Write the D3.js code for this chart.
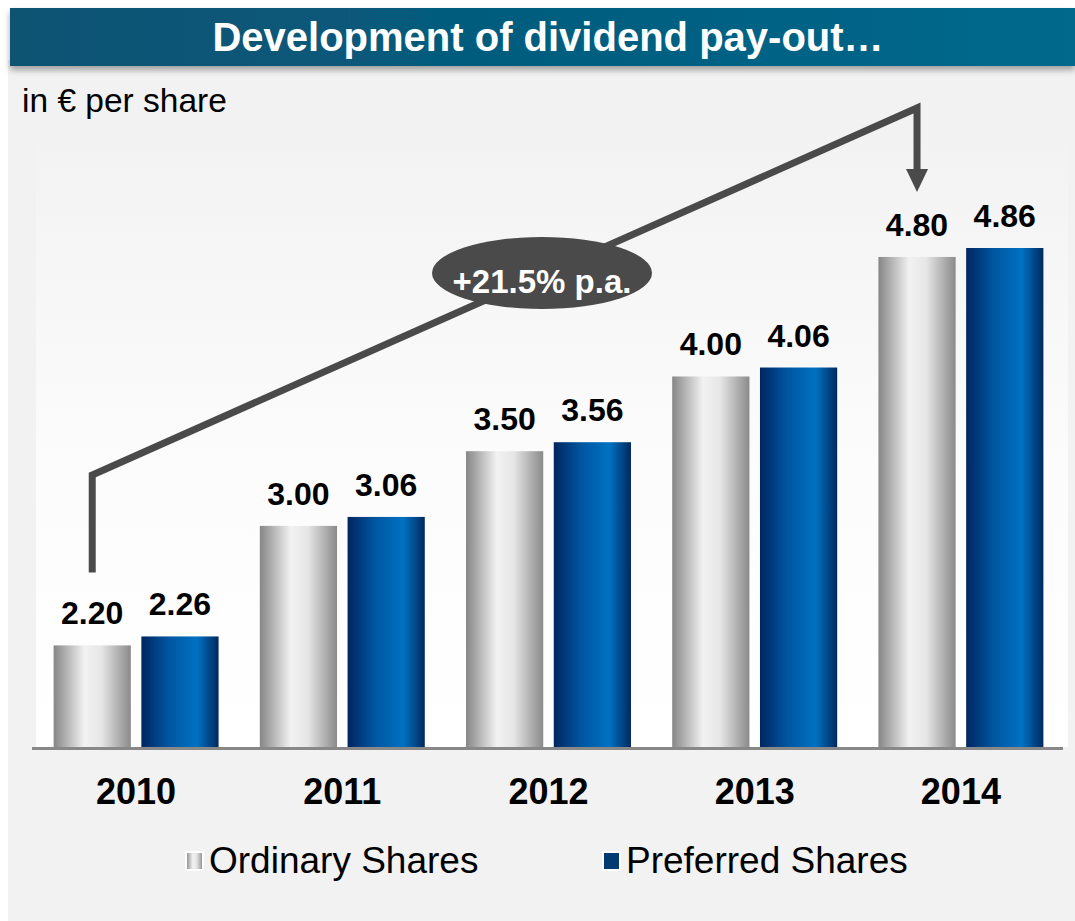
<!DOCTYPE html>
<html lang="en">
<head>
    <meta charset="UTF-8">
    <title>Development of dividend pay-out</title>
    <script src="https://d3js.org/d3.v7.min.js"></script>
    <style>
        body { margin: 0; background: #fff; font-family: "Liberation Sans", Arial, sans-serif; }
        svg { display: block; }
    </style>
</head>
<body>
    <div id="chart"></div>

    <script>
        // data
        const years = ["2010", "2011", "2012", "2013", "2014"];
        const seriesNames = ["Ordinary Shares", "Preferred Shares"];
        const ordinary = [2.20, 3.00, 3.50, 4.00, 4.80];
        const preferred = [2.26, 3.06, 3.56, 4.06, 4.86];
        const cagrLabel = "+21.5% p.a.";

        const width = 1075, height = 921;

        const svg = d3.select("#chart").append("svg")
            .attr("width", width)
            .attr("height", height);

        const defs = svg.append("defs");

        // gradients
        const grey = defs.append("linearGradient").attr("id", "gGrey")
            .attr("x1", "0%").attr("x2", "100%").attr("y1", "0%").attr("y2", "0%");
        grey.append("stop").attr("offset", "0%").attr("stop-color", "#868686");
        grey.append("stop").attr("offset", "40%").attr("stop-color", "#f2f2f2");
        grey.append("stop").attr("offset", "62%").attr("stop-color", "#e6e6e6");
        grey.append("stop").attr("offset", "100%").attr("stop-color", "#8a8a8a");

        const blue = defs.append("linearGradient").attr("id", "gBlue")
            .attr("x1", "0%").attr("x2", "100%").attr("y1", "0%").attr("y2", "0%");
        blue.append("stop").attr("offset", "0%").attr("stop-color", "#002660");
        blue.append("stop").attr("offset", "35%").attr("stop-color", "#0055a0");
        blue.append("stop").attr("offset", "72%").attr("stop-color", "#0072c2");
        blue.append("stop").attr("offset", "100%").attr("stop-color", "#00285e");

        const head = defs.append("linearGradient").attr("id", "gHead")
            .attr("x1", "0%").attr("x2", "100%").attr("y1", "0%").attr("y2", "0%");
        head.append("stop").attr("offset", "0%").attr("stop-color", "#0a5272");
        head.append("stop").attr("offset", "100%").attr("stop-color", "#00698c");

        const plotBg = defs.append("linearGradient").attr("id", "gPlot")
            .attr("x1", "0%").attr("x2", "0%").attr("y1", "0%").attr("y2", "100%");
        plotBg.append("stop").attr("offset", "0%").attr("stop-color", "#f2f2f2");
        plotBg.append("stop").attr("offset", "55%").attr("stop-color", "#fcfcfc");
        plotBg.append("stop").attr("offset", "100%").attr("stop-color", "#ffffff");

        const shadow = defs.append("filter").attr("id", "shadow")
            .attr("x", "-5%").attr("y", "-20%").attr("width", "110%").attr("height", "160%");
        shadow.append("feDropShadow").attr("dx", 0).attr("dy", 4).attr("stdDeviation", 3)
            .attr("flood-color", "#000").attr("flood-opacity", 0.35);

        // panel + header
        svg.append("rect").attr("x", 8).attr("y", 60).attr("width", width - 8).attr("height", height - 60)
            .attr("fill", "#f2f2f2");
        svg.append("rect").attr("x", 36).attr("y", 125).attr("width", 1032).attr("height", 622)
            .attr("fill", "url(#gPlot)");
        svg.append("rect").attr("x", 10).attr("y", 8).attr("width", width - 10).attr("height", 58)
            .attr("fill", "url(#gHead)").attr("filter", "url(#shadow)");
        svg.append("text").attr("x", 548).attr("y", 51)
            .attr("text-anchor", "middle").attr("fill", "#fff")
            .style("font-size", "40px").style("font-weight", "bold")
            .text("Development of dividend pay-out…");

        svg.append("text").attr("x", 22).attr("y", 112)
            .style("font-size", "33.5px").attr("fill", "#000")
            .text("in € per share");

        // scales
        const x0 = d3.scaleBand().domain(years).range([33, 1064]).paddingInner(0.2).paddingOuter(0.1);
        const x1 = d3.scaleBand().domain(seriesNames).range([0, x0.bandwidth()]).paddingInner(0.12);
        const y = d3.scaleLinear().domain([1.52, 4.86]).range([747, 248]);

        const fills = { "Ordinary Shares": "url(#gGrey)", "Preferred Shares": "url(#gBlue)" };

        const rows = years.map((yr, i) => ({
            year: yr,
            values: [
                { key: seriesNames[0], value: ordinary[i] },
                { key: seriesNames[1], value: preferred[i] }
            ]
        }));

        const groups = svg.append("g").selectAll("g")
            .data(rows)
            .enter().append("g")
            .attr("transform", d => `translate(${x0(d.year)},0)`);

        groups.selectAll("rect")
            .data(d => d.values)
            .enter().append("rect")
            .attr("x", d => x1(d.key))
            .attr("y", d => y(d.value))
            .attr("width", x1.bandwidth())
            .attr("height", d => y.range()[0] - y(d.value))
            .attr("fill", d => fills[d.key]);

        groups.selectAll("text")
            .data(d => d.values)
            .enter().append("text")
            .attr("x", d => x1(d.key) + x1.bandwidth() / 2)
            .attr("y", d => y(d.value) - 21)
            .attr("text-anchor", "middle")
            .style("font-size", "32px").style("font-weight", "bold")
            .attr("fill", "#000")
            .text(d => d.value.toFixed(2));

        // baseline
        svg.append("line")
            .attr("x1", 32).attr("x2", 1063)
            .attr("y1", y.range()[0] + 1.5).attr("y2", y.range()[0] + 1.5)
            .attr("stroke", "#888").attr("stroke-width", 3);

        // year labels
        const xAxis = svg.append("g")
            .attr("transform", `translate(0,${y.range()[0]})`)
            .call(d3.axisBottom(x0).tickSize(0).tickPadding(0));
        xAxis.select(".domain").remove();
        xAxis.selectAll("text")
            .attr("dy", null).attr("y", 57)
            .attr("fill", "#000")
            .style("font-family", "'Liberation Sans', Arial, sans-serif")
            .style("font-size", "36px").style("font-weight", "bold");

        // CAGR arrow
        const xs = x0(years[0]) + x1(seriesNames[0]) + x1.bandwidth() / 2;
        const xe = x0(years[years.length - 1]) + x1(seriesNames[0]) + x1.bandwidth() / 2;
        const yStart = y(ordinary[0]) - 73;
        const arrowPath = d3.path();
        arrowPath.moveTo(xs, yStart);
        arrowPath.lineTo(xs, 475);
        arrowPath.lineTo(xe, 108);
        arrowPath.lineTo(xe, 172);
        svg.append("path").attr("d", arrowPath.toString())
            .attr("fill", "none").attr("stroke", "#4a4a4a")
            .attr("stroke-width", 7).attr("stroke-linejoin", "miter");
        svg.append("path")
            .attr("d", `M${xe - 11},169 L${xe + 11},169 L${xe},192 Z`)
            .attr("fill", "#4a4a4a");

        svg.append("ellipse").attr("cx", 542).attr("cy", 273).attr("rx", 110).attr("ry", 36)
            .attr("fill", "#4a4a4a");
        svg.append("text").attr("x", 542).attr("y", 293)
            .attr("text-anchor", "middle").attr("fill", "#fff")
            .style("font-size", "33px").style("font-weight", "bold")
            .text(cagrLabel);

        // legend
        const legendItems = [
            { name: seriesNames[0], x: 186, fill: "url(#gGrey)" },
            { name: seriesNames[1], x: 603, fill: "#003a70" }
        ];
        const legend = svg.append("g");
        legendItems.forEach(d => {
            legend.append("rect")
                .attr("x", d.x).attr("y", 852).attr("width", 17).attr("height", 18)
                .attr("fill", d.fill).attr("stroke", "#fff").attr("stroke-width", 2);
            legend.append("text")
                .attr("x", d.x + 23).attr("y", 873)
                .style("font-size", "37px").attr("fill", "#000")
                .text(d.name);
        });
    </script>
</body>
</html>
